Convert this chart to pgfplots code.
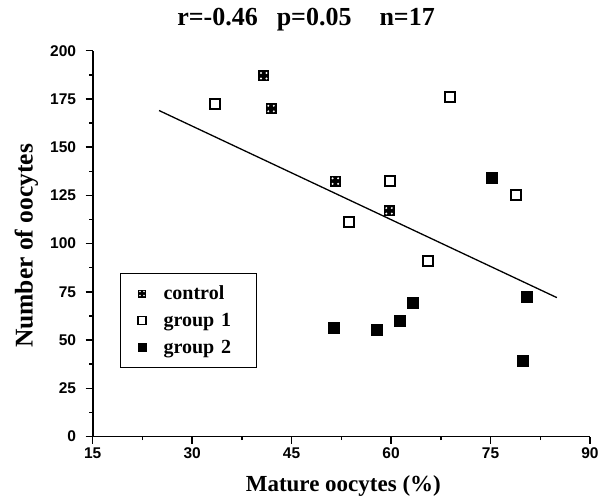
\documentclass[border=0pt]{standalone}
\usepackage{fontspec}
\setmainfont{Liberation Serif}
\newfontfamily\tickfont{Liberation Sans}
\usepackage{pgfplots}
\pgfplotsset{compat=1.18}

\pgfdeclareplotmark{ctrl}{%
  \pgfsetfillcolor{black}%
  \pgfpathrectangle{\pgfpoint{-\pgfplotmarksize}{-\pgfplotmarksize}}{\pgfpoint{2\pgfplotmarksize}{2\pgfplotmarksize}}%
  \pgfusepathqfill
  \begin{pgfscope}%
  \pgfsetfillcolor{white}%
  \pgfpathcircle{\pgfpoint{0.5\pgfplotmarksize}{0.5\pgfplotmarksize}}{0.2\pgfplotmarksize}%
  \pgfpathcircle{\pgfpoint{-0.5\pgfplotmarksize}{0.5\pgfplotmarksize}}{0.2\pgfplotmarksize}%
  \pgfpathcircle{\pgfpoint{0.5\pgfplotmarksize}{-0.5\pgfplotmarksize}}{0.2\pgfplotmarksize}%
  \pgfpathcircle{\pgfpoint{-0.5\pgfplotmarksize}{-0.5\pgfplotmarksize}}{0.2\pgfplotmarksize}%
  \pgfusepathqfill
  \end{pgfscope}%
}

\pgfplotsset{mylegend/.style={legend image code/.code={\path[draw=none,fill=none] (-10bp,-4bp) rectangle (10bp,4bp); \draw[##1, mark size=4bp] plot coordinates {(0bp,0bp)};}}}

\begin{document}
\begin{tikzpicture}
\path[use as bounding box] (-92.7bp,-62.5bp) rectangle (517.3bp,436.5bp);
\begin{axis}[
  at={(0,0)}, anchor=south west,
  scale only axis, width=497.3bp, height=385.8bp,
  xmin=15, xmax=90, ymin=0, ymax=200,
  xtick={15,30,...,90}, ytick={0,25,...,200}, minor tick num=1,
  axis x line*=bottom, axis y line*=left,
  axis line style={line width=1.8bp, -},
  tick align=outside, major tick length=7bp, minor tick length=3.5bp,
  every tick/.style={black, line width=1.5bp},
  tick label style={font=\tickfont\bfseries\fontsize{15.5bp}{15.5bp}\selectfont},
  /pgf/number format/assume math mode=true,
  yticklabel style={anchor=east, inner sep=0pt, xshift=-9.5bp},
  xticklabel style={anchor=north, inner sep=0pt, yshift=-4bp},
  clip=false,
  title={r=-0.46\hspace{19bp}p=0.05\hspace{28bp}n=17},
  title style={font=\bfseries\fontsize{26bp}{26bp}\selectfont, at={([yshift=19bp]axis description cs:0.429,1)}, anchor=base, inner sep=0pt},
  xlabel={Mature oocytes (\%)},
  xlabel style={font=\bfseries\fontsize{23bp}{23bp}\selectfont, at={([yshift=-54.5bp]axis description cs:0.504,0)}, anchor=base, inner sep=0pt},
  ylabel={Number of oocytes},
  ylabel style={font=\bfseries\fontsize{25.5bp}{25.5bp}\selectfont, at={([xshift=-60bp]axis description cs:0,0.494)}, anchor=base, inner sep=0pt},
  legend style={at={(axis cs:19.1,84.6)}, anchor=north west, draw=black, line width=0.8bp,
    inner xsep=11.7bp, inner ysep=10.8bp,
    font=\bfseries\fontsize{20bp}{20bp}\selectfont,
    row sep=9bp, column sep=11.6bp,
    nodes={inner sep=0pt, text height=15bp, text depth=3bp, text width=80.7bp, align=left}},
  legend cell align=left,
]
\addplot[forget plot, black, line width=1.3bp] coordinates {(25,169) (85,72)};
\addplot[only marks, mark=ctrl, mark size=5.5bp, black, fill=black, mylegend] coordinates {
(40.8,187) (41.9,170) (51.6,132.4) (59.7,117)};
\addlegendentry{control}
\addplot[only marks, mark=square, mark size=5bp, black, line width=1.8bp, mark options={fill=white}, mylegend] coordinates {
(33.4,172.4) (68.9,176) (59.8,132.4) (53.6,111.2) (78.8,125.2) (65.6,91.1)};
\addlegendentry{group 1}
\addplot[only marks, mark=square*, mark size=5.5bp, black, fill=black, mylegend] coordinates {
(75.1,134.2) (51.3,56.4) (57.9,55.2) (61.3,60) (63.3,69.4) (80.4,72.3) (79.8,39.3)};
\addlegendentry{group 2}
\end{axis}
\end{tikzpicture}
\end{document}
